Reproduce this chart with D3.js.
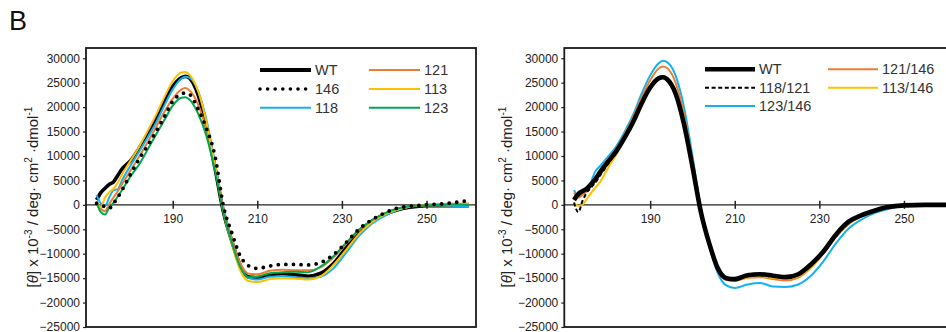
<!DOCTYPE html>
<html><head><meta charset="utf-8">
<script src="https://cdn.jsdelivr.net/npm/d3@7"></script>
<style>
html,body{margin:0;padding:0;background:#fff;overflow:hidden}
svg{display:block;font-family:"Liberation Sans",Arial,sans-serif}
</style></head><body>
<svg id="c" width="946" height="332"></svg>
<script>
// ---------- DATA ----------
const wavelengths = [172,173,174,175,176,177,178,180,182,184,186,188,190,192,193,194,196,198,200,202,204,206,208,210,213,216,219,222,225,228,231,234,237,240,243,246,250,255,260];

// Left panel (single mutants)
const leftWT   = [1000,2500,3400,4200,4700,6000,7300,9000,11500,14300,17300,21000,24200,26000,26300,25900,22500,16000,7500,-1500,-7500,-12500,-14800,-14900,-14300,-14100,-14300,-14600,-14000,-12000,-8800,-5700,-3400,-2000,-1050,-500,-150,-200,-200];
const left146  = [300,0,-400,-700,300,1500,3000,6200,9300,12000,14900,18000,21200,22700,22900,22600,19600,15600,10000,-300,-5800,-10500,-12500,-13000,-12500,-12200,-12200,-12300,-11800,-10200,-7700,-5000,-3100,-1700,-700,-300,0,300,900];
const left118  = [2000,300,-200,1500,3000,3200,5000,8000,10800,13700,16700,20300,23600,25800,26200,26000,23300,17300,8500,-800,-7200,-12500,-15000,-15300,-14700,-14600,-14800,-15000,-14700,-13000,-9800,-6400,-3900,-2300,-1100,-400,-100,-200,-300];
const left121  = [800,-800,-1300,200,1500,2800,4200,7000,9800,12700,15800,19000,21700,23600,23900,23400,20500,15300,8000,-800,-7000,-12000,-14100,-14200,-13500,-13300,-13400,-13400,-12800,-10800,-8000,-5300,-3300,-1800,-800,-300,0,200,300];
const left113  = [500,-500,1500,2600,3300,4500,6200,9000,11800,15000,18300,22000,25300,27100,27200,26600,23300,16800,8000,-1500,-8000,-13500,-15600,-15800,-15200,-15000,-15100,-15300,-14600,-12300,-9200,-6000,-3600,-2000,-1000,-400,-100,-100,200];
const left123  = [500,-1500,-2000,-500,400,1700,3000,5800,8200,11200,14300,17300,20300,21900,22000,21500,18700,14000,7000,-1500,-7800,-12800,-14800,-14700,-14000,-13800,-13700,-13800,-12600,-10500,-7800,-5100,-3200,-1800,-800,-300,-100,0,0];

// Right panel (double mutants)
const rightWT     = [1000,2200,2800,3300,4200,5200,6500,8800,11000,13800,17000,20800,24000,25900,26100,25700,22800,16500,7800,-1500,-8000,-13000,-15000,-15200,-14400,-14200,-14500,-14800,-14200,-12200,-9500,-6000,-3400,-2100,-1200,-500,-100,0,0];
const right118_121 = [500,-1500,800,2500,3500,4500,5800,8300,10800,13600,16800,20600,23900,26000,26300,25900,23000,16800,8000,-1300,-7800,-12900,-15000,-15300,-14600,-14400,-14700,-14900,-14300,-12300,-9300,-6000,-3500,-2100,-1100,-400,-100,0,0];
const right123_146 = [3000,1700,2300,3100,4700,6800,7800,9800,12000,15000,18500,22800,26500,29000,29500,29200,26500,20000,10000,-1000,-8500,-14000,-16500,-17000,-16300,-16000,-16700,-16800,-16300,-14500,-11500,-7800,-4800,-3000,-1700,-900,-300,-200,-100];
const right121_146 = [2500,1500,2000,2800,4000,5500,6800,9200,11500,14500,18000,22000,25500,27900,28300,28000,25000,18500,9000,-1200,-8200,-13300,-15400,-15600,-14900,-14800,-15200,-15500,-14900,-12900,-9900,-6500,-3900,-2400,-1300,-500,-100,0,100];
const right113_146 = [200,-200,0,1200,2400,3500,4500,7500,10300,13400,16800,20600,24000,26200,26400,26100,23300,17300,8500,-1000,-7800,-12900,-15000,-15400,-14800,-14600,-14900,-15100,-14600,-12700,-9800,-6400,-3800,-2300,-1200,-600,-300,-100,0];

const yTicks = [30000,25000,20000,15000,10000,5000,0,-5000,-10000,-15000,-20000,-25000];
const xTicks = [190,210,230,250];
const leftLegend  = [["WT","146","118"],["121","113","123"]];
const rightLegend = [["WT","118/121","123/146"],["121/146","113/146"]];

// ---------- STYLES ----------
const C = {black:"#000", orange:"#ED7D31", yellow:"#FFC000", green:"#00A84F", blue:"#14B1EE"};
const leftStyles = {
  "WT":  {data:leftWT,  color:C.black,  width:3.6},
  "146": {data:left146, color:C.black,  width:3.8, dash:"0 7.6", cap:"round"},
  "118": {data:left118, color:C.blue,   width:2},
  "121": {data:left121, color:C.orange, width:2},
  "113": {data:left113, color:C.yellow, width:2},
  "123": {data:left123, color:C.green,  width:2}
};
const leftOrder = ["WT","118","121","113","123","146"];
const rightStyles = {
  "WT":      {data:rightWT,      color:C.black,  width:4.6},
  "118/121": {data:right118_121, color:C.black,  width:2, dash:"4 2.6"},
  "123/146": {data:right123_146, color:C.blue,   width:2},
  "121/146": {data:right121_146, color:C.orange, width:2},
  "113/146": {data:right113_146, color:C.yellow, width:2}
};
const rightOrder = ["123/146","121/146","113/146","WT","118/121"];

const svg = d3.select("#c");
const font = '"Liberation Sans",Arial,sans-serif';

svg.append("text").attr("x",9).attr("y",30).attr("font-size",27).attr("fill","#111").text("B");

function panel(opt){
  const g = svg.append("g");
  const x = d3.scaleLinear().domain(opt.xDomain).range([opt.left, opt.right]);
  const y = d3.scaleLinear().domain([-25000, 32100]).range([327, 48]);
  const clipId = "clip"+opt.id;
  svg.append("clipPath").attr("id",clipId).append("rect")
     .attr("x",opt.left).attr("y",48).attr("width",opt.right-opt.left).attr("height",279);

  // y axis ticks & labels
  const yAxis = d3.axisLeft(y).tickValues(yTicks).tickSize(3).tickPadding(3).tickFormat(d3.format("d"));
  const ya = g.append("g").attr("transform",`translate(${opt.left},0)`).call(yAxis);
  ya.select(".domain").remove();
  ya.selectAll("line").attr("stroke","#222").attr("stroke-width",1.2);
  ya.selectAll("text").attr("font-size",12).attr("font-family",font).attr("fill","#222");

  // zero line with ticks
  const y0 = y(0);
  const xAxis = d3.axisBottom(x).tickValues(xTicks).tickSize(4).tickPadding(6).tickFormat(d3.format("d"));
  const xa = g.append("g").attr("transform",`translate(0,${y0})`).call(xAxis);
  xa.select(".domain").remove();
  xa.selectAll(".tick line").attr("y1",-4).attr("y2",4).attr("stroke","#222").attr("stroke-width",1.5);
  xa.selectAll("text").attr("font-size",12).attr("font-family",font).attr("fill","#222");
  g.append("line").attr("x1",opt.left).attr("x2",opt.right).attr("y1",y0).attr("y2",y0)
   .attr("stroke","#222").attr("stroke-width",1.3);

  // curves
  const line = d3.line().x((d,i)=>x(wavelengths[i])).y(d=>y(d)).curve(d3.curveMonotoneX);
  const cg = g.append("g").attr("clip-path",`url(#${clipId})`);
  opt.order.forEach(k=>{
    const s = opt.styles[k];
    cg.append("path").attr("d",line(s.data)).attr("fill","none")
      .attr("stroke",s.color).attr("stroke-width",s.width)
      .attr("stroke-linejoin","round")
      .attr("stroke-linecap",s.cap||"butt")
      .attr("stroke-dasharray",s.dash||null);
  });

  // frame
  g.append("rect").attr("x",opt.left).attr("y",48).attr("width",opt.right-opt.left).attr("height",279)
   .attr("fill","none").attr("stroke","#1a1a1a").attr("stroke-width",1.8);

  // legend
  opt.legend.forEach((col,ci)=>{
    col.forEach((k,ri)=>{
      const s = opt.styles[k];
      const lx = opt.legX[ci], ly = opt.legY[ri];
      g.append("line").attr("x1",lx).attr("x2",lx+opt.legLen).attr("y1",ly).attr("y2",ly)
       .attr("stroke",s.color).attr("stroke-width",k==="WT"?(opt.id==="L"?4:4.6):(s.cap?3.6:2))
       .attr("stroke-linecap",s.cap||"butt").attr("stroke-dasharray",s.dash||null);
      g.append("text").attr("x",lx+opt.legLen+4).attr("y",ly+5).attr("font-size",14.5)
       .attr("font-family",font).attr("fill","#333").text(k);
    });
  });

  // y axis title
  const t = svg.append("text").attr("transform",`translate(${opt.titleX},197) rotate(-90)`)
    .attr("text-anchor","middle").attr("font-size",15).attr("font-family",font).attr("fill","#222");
  t.append("tspan").text("[");
  t.append("tspan").attr("font-style","italic").text("θ");
  t.append("tspan").text("] x 10");
  t.append("tspan").attr("font-size",10).attr("dy",-6).text("-3");
  t.append("tspan").attr("dy",6).text(" / deg· cm");
  t.append("tspan").attr("font-size",10).attr("dy",-6).text("2");
  t.append("tspan").attr("dy",6).text(" ·dmol");
  t.append("tspan").attr("font-size",10).attr("dy",-6).text("-1");
}

panel({id:"L", left:86, right:476, xDomain:[169.5,261.7], styles:leftStyles, order:leftOrder,
       legend:leftLegend, legX:[260,369], legY:[70,89,107.7], legLen:51, titleX:38});
panel({id:"R", left:564.3, right:954.3, xDomain:[169.7,261.9], styles:rightStyles, order:rightOrder,
       legend:rightLegend, legX:[705,828], legY:[69.3,87.7,106], legLen:50, titleX:512});
</script>
</body></html>
